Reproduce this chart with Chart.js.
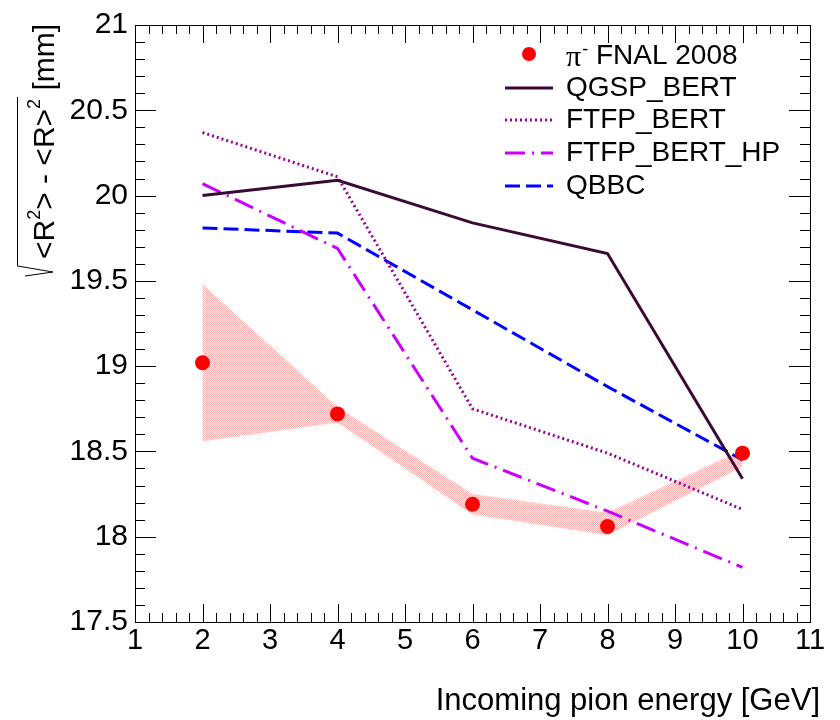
<!DOCTYPE html>
<html>
<head>
<meta charset="utf-8">
<script src="https://cdn.jsdelivr.net/npm/chart.js@4.4.1/dist/chart.umd.min.js"></script>
<style>
  html, body { margin: 0; padding: 0; background: #ffffff; }
  #wrap { width: 840px; height: 720px; }
</style>
</head>
<body>
<div id="wrap"><canvas id="c" width="840" height="720"></canvas></div>
<script>
// Beam energies (GeV)
const energies = [2, 4, 6, 8, 10];

// Measured shower radius spread, pi- FNAL 2008 (mm)
const dataFNAL = [19.02, 18.72, 18.19, 18.06, 18.49];
// Systematic uncertainty band around the measurement
const bandUpper = [19.48, 18.76, 18.25, 18.14, 18.51];
const bandLower = [18.56, 18.67, 18.13, 18.01, 18.41];

// Geant4 physics lists
const qgspBert = [20.00, 20.09, 19.84, 19.66, 18.34];
const ftfpBert = [20.37, 20.11, 18.75, 18.49, 18.16];
const ftfpBertHp = [20.07, 19.69, 18.46, 18.15, 17.82];
const qbbc = [19.81, 19.78, 19.33, 18.88, 18.45];

// Axis tick settings
const xRange = [1, 11];
const yRange = [17.5, 21];
const xMajorStep = 1, xMinorStep = 0.2;
const yMajorStep = 0.5, yMinorStep = 0.1;

const FONT = '"Liberation Sans", Arial, Helvetica, sans-serif';

const styles = {
  qgsp: { color: '#3a0a35', dash: [] },
  ftfp: { color: '#990099', dash: [2, 3] },
  hp:   { color: '#cc00ff', dash: [20, 7, 2, 7] },
  qbbc: { color: '#0000ff', dash: [15, 6] }
};

function pts(ys) { return energies.map((e, i) => ({ x: e, y: ys[i] })); }

// Fine stipple used for the uncertainty band
function stipple() {
  const c = document.createElement('canvas');
  c.width = 2; c.height = 2;
  const g = c.getContext('2d');
  g.fillStyle = '#ffffff'; g.fillRect(0, 0, 2, 2);
  g.fillStyle = '#ffaaaa';
  g.fillRect(0, 0, 1, 1); g.fillRect(1, 1, 1, 1);
  return g.createPattern(c, 'repeat');
}

// Tick labels without trailing ".0"
function fmt(v) { return String(Math.round(v * 10) / 10); }

// ROOT-style frame with ticks pointing inward on all four sides
const framePlugin = {
  id: 'frame',
  afterDatasetsDraw(chart) {
    const { ctx, chartArea: a, scales: { x, y } } = chart;
    ctx.save();
    ctx.strokeStyle = '#000';
    ctx.lineWidth = 1;
    ctx.beginPath();
    const nx = Math.round((xRange[1] - xRange[0]) / xMinorStep);
    for (let i = 0; i <= nx; i++) {
      const v = xRange[0] + i * xMinorStep;
      const major = Math.abs(v / xMajorStep - Math.round(v / xMajorStep)) < 1e-6;
      const len = major ? 18 : 9;
      const px = Math.round(x.getPixelForValue(v)) + 0.5;
      ctx.moveTo(px, a.bottom); ctx.lineTo(px, a.bottom - len);
      ctx.moveTo(px, a.top); ctx.lineTo(px, a.top + len);
    }
    const ny = Math.round((yRange[1] - yRange[0]) / yMinorStep);
    for (let i = 0; i <= ny; i++) {
      const v = yRange[0] + i * yMinorStep;
      const major = Math.abs(v / yMajorStep - Math.round(v / yMajorStep)) < 1e-6;
      const len = major ? 21 : 10;
      const py = Math.round(y.getPixelForValue(v)) + 0.5;
      ctx.moveTo(a.left, py); ctx.lineTo(a.left + len, py);
      ctx.moveTo(a.right, py); ctx.lineTo(a.right - len, py);
    }
    ctx.stroke();
    ctx.strokeRect(Math.round(a.left) + 0.5, Math.round(a.top) + 0.5,
                   Math.round(a.right - a.left), Math.round(a.bottom - a.top));
    ctx.restore();
  }
};

// Axis titles, including the radical over the y title
const titlesPlugin = {
  id: 'titles',
  afterDraw(chart) {
    const { ctx } = chart;
    ctx.save();
    ctx.fillStyle = '#000';
    // x title
    ctx.font = '31px ' + FONT;
    ctx.textAlign = 'right';
    ctx.textBaseline = 'alphabetic';
    ctx.fillText('Incoming pion energy [GeV]', 820, 710);

    // y title, reading bottom to top
    ctx.translate(54, 259);
    ctx.rotate(-Math.PI / 2);
    ctx.textAlign = 'left';
    const main = '30px ' + FONT, sup = '18px ' + FONT;
    let pen = 0;
    const put = (t, f, rise) => {
      ctx.font = f;
      ctx.fillText(t, pen, -rise);
      pen += ctx.measureText(t).width;
    };
    put('<R', main, 0);
    put('2', sup, 14);
    put('> - <R>', main, 0);
    put('2', sup, 14);
    const radEnd = pen + 2;
    put(' [mm]', main, 0);
    ctx.restore();

    // radical sign
    ctx.save();
    ctx.strokeStyle = '#000';
    ctx.lineWidth = 1;
    ctx.beginPath();
    ctx.moveTo(25, 276);
    ctx.lineTo(53, 272);
    ctx.lineTo(17.5, 266);
    ctx.lineTo(17.5, 259 - radEnd);
    ctx.stroke();
    ctx.restore();
  }
};

// Legend placed inside the frame
const legendPlugin = {
  id: 'insideLegend',
  afterDraw(chart) {
    const { ctx } = chart;
    ctx.save();
    const x0 = 505, x1 = 553, tx = 566;
    // measurement marker
    ctx.fillStyle = '#ff0000';
    ctx.beginPath(); ctx.arc(529, 54, 7, 0, Math.PI * 2); ctx.fill();
    ctx.fillStyle = '#000';
    ctx.textBaseline = 'middle';
    ctx.textAlign = 'left';
    ctx.font = '30px "Liberation Serif", "DejaVu Serif", serif';
    ctx.fillText('\u03c0', tx, 58);
    let p = tx + ctx.measureText('\u03c0').width + 1;
    ctx.font = '18px ' + FONT;
    ctx.fillText('-', p, 50);
    p += ctx.measureText('-').width;
    ctx.font = '28px ' + FONT;
    ctx.fillText(' FNAL 2008', p, 56);

    const rows = [
      ['QGSP_BERT', styles.qgsp, 88],
      ['FTFP_BERT', styles.ftfp, 120],
      ['FTFP_BERT_HP', styles.hp, 153],
      ['QBBC', styles.qbbc, 186]
    ];
    for (const [label, st, yy] of rows) {
      ctx.strokeStyle = st.color;
      ctx.lineWidth = 3;
      ctx.setLineDash(st.dash);
      ctx.beginPath(); ctx.moveTo(x0, yy); ctx.lineTo(x1, yy); ctx.stroke();
      ctx.setLineDash([]);
      ctx.fillStyle = '#000';
      ctx.font = '28px ' + FONT;
      ctx.fillText(label, tx, yy);
    }
    ctx.restore();
  }
};

const lineDs = (label, ys, st) => ({
  label, data: pts(ys), borderColor: st.color, borderWidth: 3,
  borderDash: st.dash, pointRadius: 0, fill: false, tension: 0, order: 2
});

new Chart(document.getElementById('c'), {
  type: 'line',
  data: {
    datasets: [
      { label: 'band low', data: pts(bandLower), borderWidth: 0, pointRadius: 0,
        fill: false, borderColor: 'rgba(0,0,0,0)', order: 5 },
      { label: 'band high', data: pts(bandUpper), borderWidth: 0, pointRadius: 0,
        fill: '-1', backgroundColor: stipple(), borderColor: 'rgba(0,0,0,0)', order: 4 },
      lineDs('QGSP_BERT', qgspBert, styles.qgsp),
      lineDs('FTFP_BERT', ftfpBert, styles.ftfp),
      lineDs('FTFP_BERT_HP', ftfpBertHp, styles.hp),
      lineDs('QBBC', qbbc, styles.qbbc),
      { label: 'pi- FNAL 2008', data: pts(dataFNAL), showLine: false,
        pointRadius: 7.5, pointBackgroundColor: '#ff0000', pointBorderWidth: 0,
        pointBorderColor: '#ff0000', order: 0 }
    ]
  },
  options: {
    responsive: false,
    animation: false,
    devicePixelRatio: 1,
    layout: { padding: { left: 0, top: 19, right: 30, bottom: 0 } },
    plugins: { legend: { display: false }, tooltip: { enabled: false } },
    scales: {
      x: {
        type: 'linear', min: xRange[0], max: xRange[1],
        border: { display: false },
        grid: { display: false, drawTicks: false },
        ticks: { stepSize: xMajorStep, color: '#000', padding: 2, callback: fmt,
                 font: { family: FONT, size: 29 }, maxRotation: 0, autoSkip: false },
        afterFit(s) { s.height = 98; }
      },
      y: {
        type: 'linear', min: yRange[0], max: yRange[1],
        border: { display: false },
        grid: { display: false, drawTicks: false },
        ticks: { stepSize: yMajorStep, color: '#000', padding: 7, callback: fmt,
                 font: { family: FONT, size: 30 }, autoSkip: false },
        afterFit(s) { s.width = 135; }
      }
    }
  },
  plugins: [framePlugin, titlesPlugin, legendPlugin]
});
</script>
</body>
</html>
